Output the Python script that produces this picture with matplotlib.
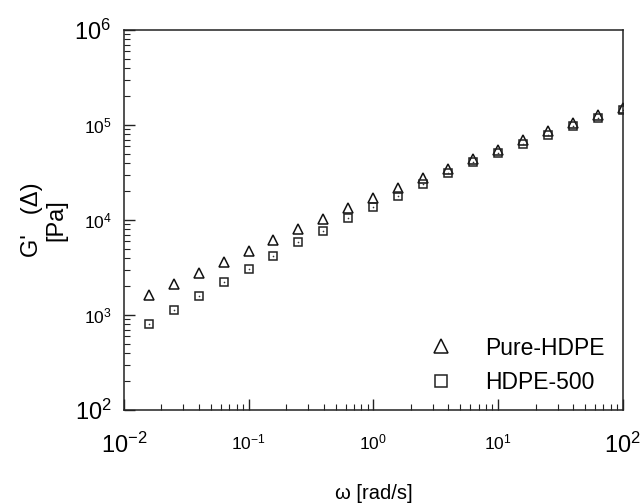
import numpy as np
import matplotlib
matplotlib.use("Agg")
import matplotlib.pyplot as plt
from matplotlib.ticker import LogLocator, NullFormatter

plt.rcParams['font.family'] = ['Liberation Sans', 'DejaVu Sans']
plt.rcParams['mathtext.fontset'] = 'custom'
plt.rcParams['mathtext.rm'] = 'Liberation Sans'
plt.rcParams['mathtext.it'] = 'Liberation Sans'

omega = [0.0158, 0.0251, 0.0398, 0.0631, 0.1, 0.158, 0.251, 0.398, 0.631, 1.0,
         1.58, 2.51, 3.98, 6.31, 10.0, 15.8, 25.1, 39.8, 63.1, 100.0]
pure_hdpe = [1625, 2120, 2770, 3610, 4720, 6150, 8040, 10250, 13370, 17060,
             21730, 27670, 34440, 43850, 54560, 69500, 86500, 105000, 127400, 151000]
hdpe_500 = [804, 1130, 1585, 2223, 3048, 4178, 5861, 7656, 10490, 13710,
            17910, 23930, 31260, 40820, 50700, 63100, 78500, 97600, 118500, 143900]

xticks = [1e-2, 1e-1, 1e0, 1e1, 1e2]
xticklabels = ['$10^{-2}$', '$10^{-1}$', '$10^{0}$', '$10^{1}$', '$10^{2}$']
yticks = [1e2, 1e3, 1e4, 1e5, 1e6]
yticklabels = ['$10^{2}$', '$10^{3}$', '$10^{4}$', '$10^{5}$', '$10^{6}$']

fig = plt.figure(figsize=(6.42, 5.04), dpi=100)
ax = fig.add_axes([0.193, 0.1865, 0.777, 0.754])

ax.plot(omega, pure_hdpe, linestyle='none', marker='^', ms=7.5, mfc='none',
        mec='#111111', mew=1.1, label='Pure-HDPE')
ax.plot(omega, hdpe_500, linestyle='none', marker='s', ms=6, mfc='none',
        mec='#222222', mew=1.1, label='HDPE-500')
ax.plot(omega, hdpe_500, linestyle='none', marker='o', ms=1.2, mfc='#333333',
        mec='none')

ax.set_xscale('log')
ax.set_yscale('log')
ax.set_xlim(1e-2, 1e2)
ax.set_ylim(1e2, 1e6)

ax.set_xticks(xticks)
ax.set_xticklabels(xticklabels)
ax.set_yticks(yticks)
ax.set_yticklabels(yticklabels)
ax.xaxis.set_minor_locator(LogLocator(base=10, subs=np.arange(2, 10), numticks=20))
ax.yaxis.set_minor_locator(LogLocator(base=10, subs=np.arange(2, 10), numticks=20))
ax.xaxis.set_minor_formatter(NullFormatter())
ax.yaxis.set_minor_formatter(NullFormatter())

ax.tick_params(which='both', direction='in', top=False, right=False, color='#222222')
ax.tick_params(which='major', length=8, width=1)
ax.tick_params(which='minor', length=4, width=0.8)
ax.tick_params(axis='x', which='major', pad=16)
ax.tick_params(axis='y', which='major', pad=9)

for i, lab in enumerate(ax.get_xticklabels()):
    lab.set_fontsize(17 if i in (0, len(xticks) - 1) else 12.5)
for i, lab in enumerate(ax.get_yticklabels()):
    lab.set_fontsize(17 if i in (0, len(yticks) - 1) else 12.5)

for sp in ax.spines.values():
    sp.set_linewidth(1.1)
    sp.set_color('#222222')

ax.set_xlabel('ω [rad/s]', fontsize=14.5, labelpad=19)
ax.set_ylabel("G'   (Δ)\n[Pa]", fontsize=17, labelpad=5, linespacing=1.15)

leg = ax.legend(loc='lower right', frameon=False, fontsize=16.5,
                handletextpad=1.3, labelspacing=0.5, markerscale=1.35,
                handlelength=1.2, borderaxespad=0.3,
                bbox_to_anchor=(0.995, 0.0))

fig.savefig('out.png', dpi=100)
